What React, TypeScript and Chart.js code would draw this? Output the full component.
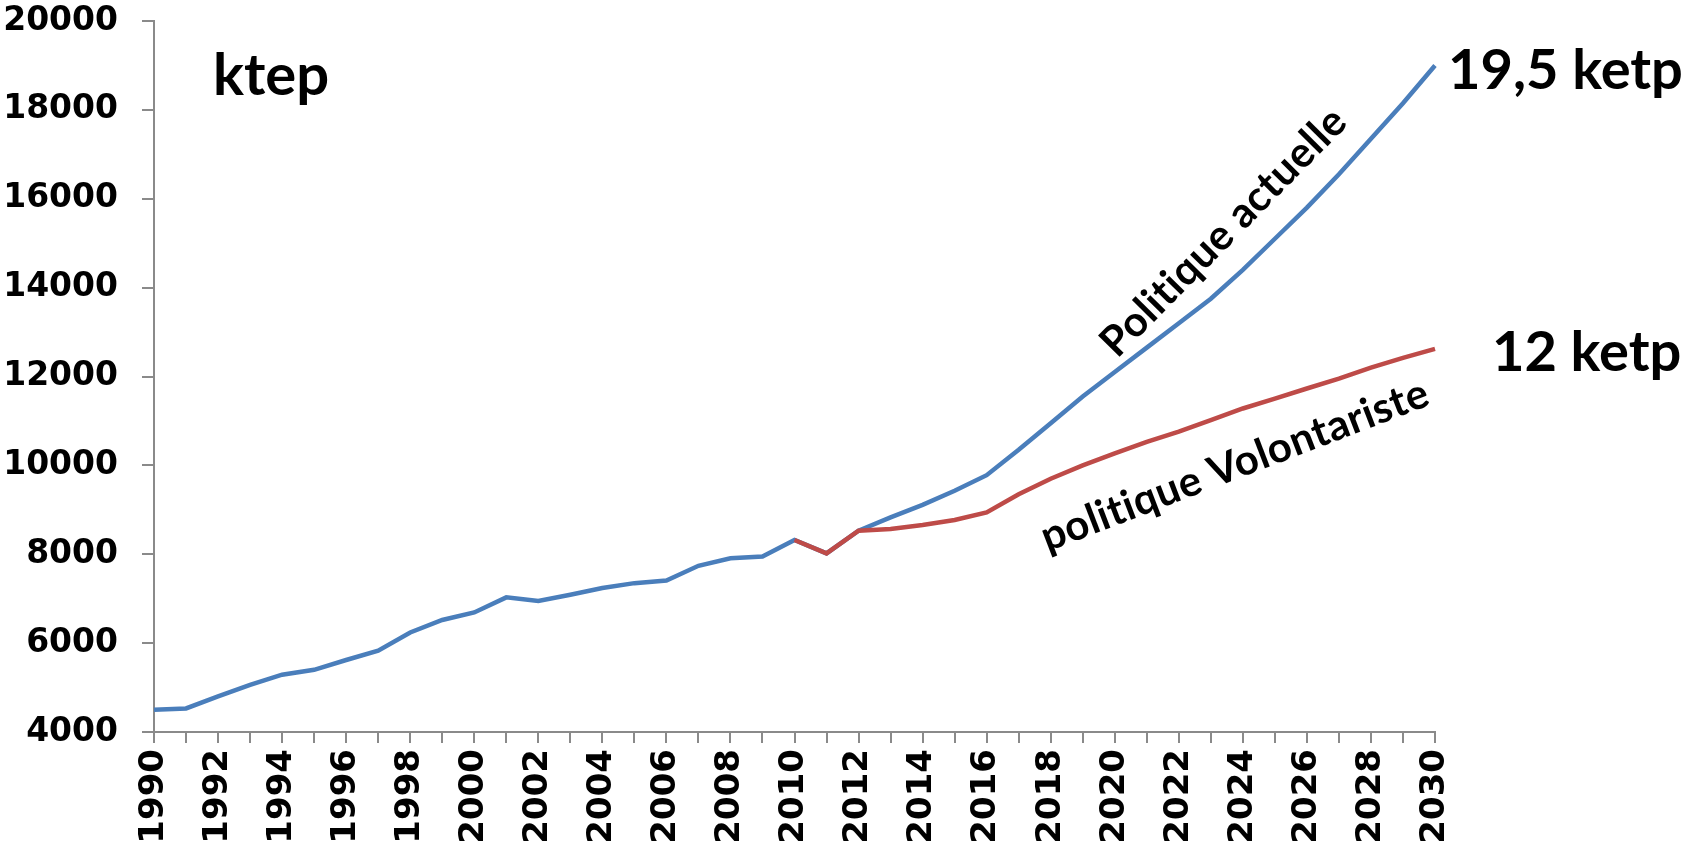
import React, { useEffect, useRef } from "react";
import { Chart, registerables } from "chart.js";

Chart.register(...registerables);

const years: string[] = [];
for (let y = 1990; y <= 2030; y++) years.push(String(y));

const politiqueActuelle = [
  4500, 4530, 4800, 5060, 5290, 5400, 5620, 5830, 6240, 6520,
  6690, 7030, 6950, 7090, 7240, 7350, 7410, 7740, 7910, 7950,
  8320, 8020, 8530, 8830, 9110, 9430, 9780, 10350, 10950, 11550,
  12100, 12650, 13200, 13750, 14400, 15100, 15800, 16550, 17350, 18150,
  19000,
];

const politiqueVolontariste = [
  null, null, null, null, null, null, null, null, null, null,
  null, null, null, null, null, null, null, null, null, null,
  8320, 8020, 8530, 8570, 8660, 8770, 8940, 9350, 9700, 10000,
  10270, 10530, 10760, 11020, 11280, 11500, 11730, 11950, 12200, 12420,
  12620,
];

const yTicks = [4000, 6000, 8000, 10000, 12000, 14000, 16000, 18000, 20000];

const unitLabel = "ktep";
const endLabelActuelle = "19,5 ketp";
const endLabelVolontariste = "12 ketp";
const curveLabelActuelle = "Politique actuelle";
const curveLabelVolontariste = "politique Volontariste";

export default function App() {
  const ref = useRef<HTMLCanvasElement | null>(null);

  useEffect(() => {
    const canvas = ref.current;
    if (!canvas) return;

    const annotPlugin = {
      id: "annot",
      afterDraw(chart: any) {
        const { ctx, chartArea } = chart;
        const xs = chart.scales.x;
        const ys = chart.scales.y;
        const last = years.length - 1;
        ctx.save();
        ctx.fillStyle = "#000";
        ctx.textAlign = "left";
        ctx.textBaseline = "alphabetic";

        ctx.font = "bold 58px Lato";
        ctx.fillText(unitLabel, chartArea.left + 59, chartArea.top + 74);

        ctx.font = "bold 56px Lato";
        ctx.fillText(
          endLabelActuelle,
          xs.getPixelForValue(last) + 13,
          ys.getPixelForValue(politiqueActuelle[last]) + 24
        );
        ctx.fillText(
          endLabelVolontariste,
          xs.getPixelForValue(last) + 57,
          ys.getPixelForValue(politiqueVolontariste[last] as number) + 22
        );

        const rotated = [
          { text: curveLabelActuelle, xi: 33.4, v: 15250, angle: -45.4 },
          { text: curveLabelVolontariste, xi: 33.75, v: 10000, angle: -21 },
        ];
        ctx.font = "bold 42px Lato";
        try {
          (ctx as any).letterSpacing = "0.4px";
        } catch (e) {}
        ctx.textAlign = "center";
        ctx.textBaseline = "middle";
        for (const r of rotated) {
          const px = xs.getPixelForValue(r.xi);
          const py = ys.getPixelForValue(r.v);
          ctx.save();
          ctx.translate(px, py);
          ctx.rotate((r.angle * Math.PI) / 180);
          ctx.fillText(r.text, 0, 0);
          ctx.restore();
        }
        ctx.restore();
      },
    };

    const chart = new Chart(canvas, {
      type: "line",
      data: {
        labels: years,
        datasets: [
          {
            label: "politique Volontariste",
            data: politiqueVolontariste,
            borderColor: "#be4b48",
            backgroundColor: "#be4b48",
            borderWidth: 4.5,
            pointRadius: 0,
            tension: 0,
            order: 0,
          },
          {
            label: "Politique actuelle",
            data: politiqueActuelle,
            borderColor: "#4a7ebb",
            backgroundColor: "#4a7ebb",
            borderWidth: 4.5,
            pointRadius: 0,
            tension: 0,
            order: 1,
          },
        ],
      },
      options: {
        responsive: false,
        animation: false,
        layout: { autoPadding: false, padding: { top: 21, right: 251, left: 0, bottom: 0 } },
        plugins: {
          legend: { display: false },
          tooltip: { enabled: false },
        },
        scales: {
          x: {
            type: "category",
            offset: false,
            afterFit: (s: any) => {
              s.height = 116;
              s.paddingLeft = 0;
              s.paddingRight = 0;
            },
            border: { display: true, color: "#8a8a8a", width: 2 },
            grid: {
              display: true,
              drawOnChartArea: false,
              drawTicks: true,
              tickLength: 11,
              color: "#8a8a8a",
              lineWidth: 2,
            },
            ticks: {
              autoSkip: false,
              maxRotation: 90,
              minRotation: 90,
              padding: 6,
              color: "#000",
              font: { family: "DejaVu Sans", weight: "bold", size: 34 },
              callback: (_v: any, i: number) => (i % 2 === 0 ? years[i] : ""),
            },
          },
          y: {
            min: 4000,
            max: 20000,
            afterFit: (s: any) => {
              s.width = 154;
              s.paddingTop = 0;
              s.paddingBottom = 0;
            },
            afterBuildTicks: (s: any) => {
              s.ticks = yTicks.map((v) => ({ value: v }));
            },
            border: { display: true, color: "#8a8a8a", width: 2 },
            grid: {
              display: true,
              drawOnChartArea: false,
              drawTicks: true,
              tickLength: 12,
              color: "#8a8a8a",
              lineWidth: 2,
            },
            ticks: {
              padding: 24,
              color: "#000",
              font: { family: "DejaVu Sans", weight: "bold", size: 33 },
              callback: (v: any) => String(v),
            },
          },
        },
      },
      plugins: [annotPlugin],
    });

    return () => chart.destroy();
  }, []);

  return (
    <div style={{ position: "absolute", left: 0, top: 0, width: 1686, height: 848, background: "#fff" }}>
      <canvas ref={ref} width={1686} height={848} style={{ width: 1686, height: 848 }} />
    </div>
  );
}
